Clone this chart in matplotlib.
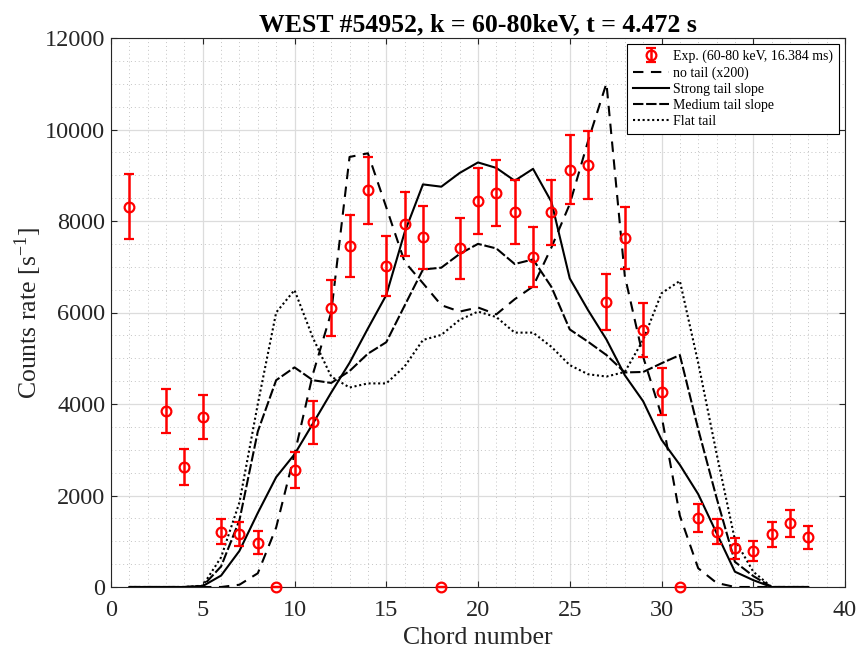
import numpy as np
import matplotlib
matplotlib.use("Agg")
import matplotlib.pyplot as plt
from matplotlib.ticker import MultipleLocator

plt.rcParams['font.family'] = ['Liberation Serif', 'DejaVu Serif']
plt.rcParams['mathtext.fontset'] = 'stix'

# Synthetic line-integrated profiles, one value per chord
chords = np.arange(1, 39)
no_tail = [0, 0, 0, 0, 0, 0, 50, 300, 1300, 2900,
           4650, 6000, 9400, 9480, 8300, 7110, 6640, 6160, 6020, 6110,
           5960, 6290, 6570, 7420, 8370, 9750, 11010, 6800, 5030, 3750,
           1560, 410, 90, 0, 0, 0, 0, 0]
strong_tail = [0, 0, 0, 0, 20, 250, 790, 1620, 2400, 2900,
               3570, 4250, 4900, 5650, 6380, 7750, 8800, 8750, 9050, 9280,
               9160, 8880, 9140, 8420, 6745, 6050, 5410, 4630, 4060, 3220,
               2670, 2030, 1180, 335, 150, 0, 0, 0]
medium_tail = [0, 0, 0, 0, 20, 450, 1460, 3400, 4520, 4800,
               4520, 4460, 4720, 5100, 5350, 6150, 6940, 6980, 7280, 7500,
               7400, 7060, 7160, 6560, 5630, 5360, 5070, 4690, 4700, 4890,
               5070, 3450, 1950, 550, 240, 0, 0, 0]
flat_tail = [0, 0, 0, 0, 30, 650, 1850, 4000, 6000, 6490,
             5450, 4600, 4360, 4450, 4450, 4820, 5400, 5510, 5840, 6020,
             5900, 5560, 5560, 5250, 4850, 4650, 4600, 4700, 5400, 6420,
             6690, 4900, 2920, 1030, 335, 0, 0, 0]

# Measured count rates (chord 2 not available)
exp_chords = [1, 3, 4, 5, 6, 7, 8, 9, 10, 11, 12, 13, 14, 15, 16, 17, 18, 19,
              20, 21, 22, 23, 24, 25, 26, 27, 28, 29, 30, 31, 32, 33, 34, 35,
              36, 37, 38]
exp_rate = [8310, 3850, 2620, 3720, 1210, 1150, 970, 0, 2560, 3600, 6100,
            7460, 8670, 7020, 7940, 7640, 0, 7400, 8440, 8620, 8190, 7220,
            8190, 9115, 9225, 6235, 7635, 5615, 4270, 0, 1515, 1210, 845, 790,
            1150, 1390, 1085]
exp_err = [713, 488, 400, 477, 277, 262, 245, 0, 394, 473, 608, 674, 728,
           656, 703, 681, 0, 667, 718, 721, 700, 656, 710, 754, 750, 612, 681,
           583, 510, 0, 302, 270, 233, 226, 265, 300, 255]

x_ticks = [0, 5, 10, 15, 20, 25, 30, 35, 40]
y_ticks = [0, 2000, 4000, 6000, 8000, 10000, 12000]

fig = plt.figure(figsize=(8.57, 6.54), dpi=100)
ax = fig.add_axes([111 / 857, 67 / 654, 734 / 857, 549 / 654])

axis_col = '#262626'

eb = ax.errorbar(exp_chords, exp_rate, yerr=exp_err, fmt='o', color='red',
                 mfc='none', mec='red', ms=7, mew=1.6, elinewidth=1.8,
                 capsize=3.5, capthick=1.8, zorder=5,
                 label='Exp. (60-80 keV, 16.384 ms)')
eb[0].set_clip_on(False)
for cap in eb[1]:
    cap.set_clip_on(False)

l_none, = ax.plot(chords, no_tail, color='black', lw=1.5, ls=(0, (5, 3.6)),
                  label='no tail (x200)')
l_strong, = ax.plot(chords, strong_tail, color='black', lw=1.5, ls='-',
                    label='Strong tail slope')
l_medium, = ax.plot(chords, medium_tail, color='black', lw=1.5,
                    ls=(0, (5, 1.3)), label='Medium tail slope')
l_flat, = ax.plot(chords, flat_tail, color='black', lw=1.5, ls=(0, (1, 1.3)),
                  label='Flat tail')

ax.set_xlim(0, 40)
ax.set_ylim(0, 12000)
ax.set_xticks(x_ticks)
ax.set_yticks(y_ticks)
ax.xaxis.set_minor_locator(MultipleLocator(1))
ax.yaxis.set_minor_locator(MultipleLocator(500))

ax.grid(True, which='major', color='#dcdcdc', lw=0.9, ls='-')
ax.grid(True, which='minor', color='#c4c4c4', lw=0.7, ls=(0, (1, 3)))
ax.set_axisbelow(True)

ax.tick_params(which='major', direction='in', length=4.5, width=0.8,
               top=True, right=True, labelsize=17.5, colors=axis_col,
               labelcolor=axis_col)
ax.tick_params(axis='x', which='major', pad=9)
ax.tick_params(axis='y', which='major', pad=4)
ax.tick_params(which='minor', length=0, top=True, right=True)
for sp in ax.spines.values():
    sp.set_color(axis_col)
    sp.set_linewidth(0.8)

ax.set_xlabel('Chord number', fontsize=18.5, color=axis_col, labelpad=5)
ax.set_ylabel(r'Counts rate [s$^{\mathregular{-1}}$]', fontsize=18.5,
              color=axis_col, labelpad=1)
ax.set_title('WEST #54952, k = 60-80keV, t = 4.472 s', fontsize=18.5,
             fontweight='bold', pad=5)

leg = ax.legend(handles=[eb, l_none, l_strong, l_medium, l_flat],
                loc='upper right', fontsize=10, handlelength=2.6,
                handletextpad=0.3, borderpad=0.4, labelspacing=0.22,
                fancybox=False, framealpha=1, edgecolor='black',
                borderaxespad=0.45)
leg.get_frame().set_linewidth(0.8)

fig.savefig('out.png', dpi=100)
